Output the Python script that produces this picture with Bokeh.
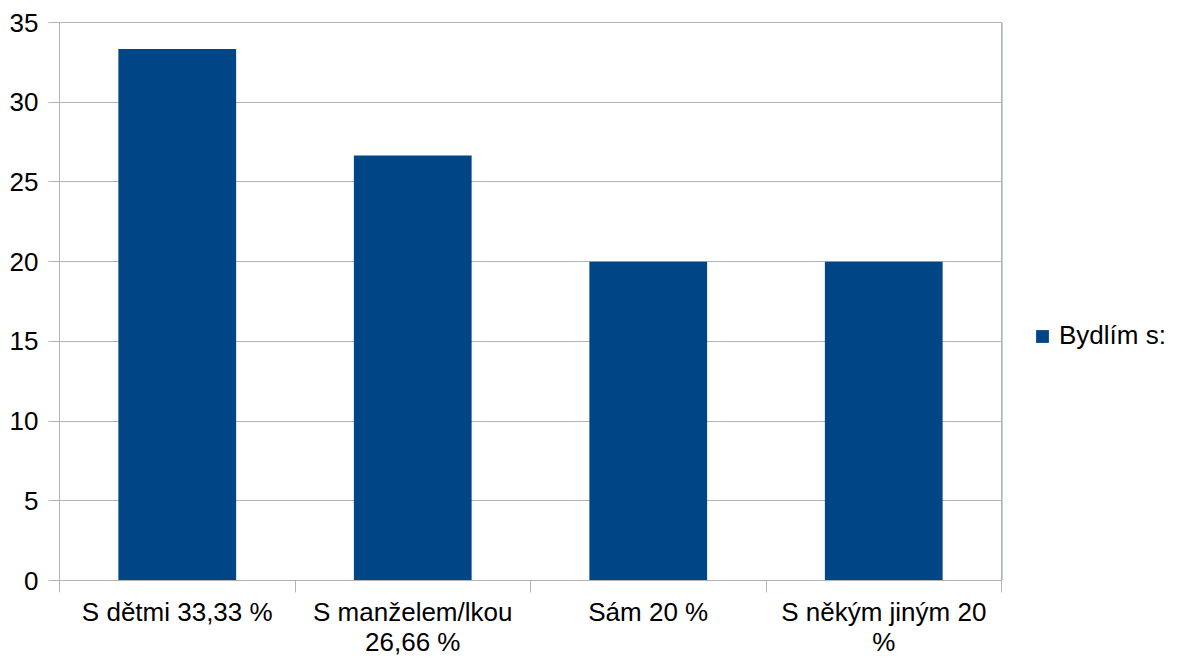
from bokeh.plotting import figure
from bokeh.models import Range1d, FixedTicker, Legend, LegendItem, ColumnDataSource
from bokeh.layouts import row
from bokeh.embed import file_html
from bokeh.resources import INLINE

categories = ["S dětmi 33,33 %", "S manželem/lkou\n26,66 %", "Sám 20 %", "S někým jiným 20\n%"]
values = [33.33, 26.66, 20, 20]
series_name = "Bydlím s:"
y_ticks = [0, 5, 10, 15, 20, 25, 30, 35]

FONT = "Liberation Sans"
GRID = "#b3b3b3"
BAR = "#004586"

positions = [i + 0.5 for i in range(len(categories))]
src = ColumnDataSource(dict(x=positions, top=values))

p = figure(width=1002, height=659, output_backend="svg", toolbar_location=None,
           x_range=Range1d(0, len(categories)), y_range=Range1d(0, 35),
           min_border_left=59, min_border_top=22, min_border_right=1, min_border_bottom=79)
p.background_fill_color = "white"
p.border_fill_color = "white"
p.outline_line_color = GRID

r = p.vbar(x="x", top="top", width=0.5, source=src, color=BAR, line_color=None)

# y axis
p.yaxis.ticker = FixedTicker(ticks=y_ticks, minor_ticks=[])
p.yaxis.axis_line_color = GRID
p.yaxis.major_tick_line_color = GRID
p.yaxis.major_tick_out = 11
p.yaxis.major_tick_in = 0
p.yaxis.minor_tick_line_color = None
p.yaxis.major_label_text_font = FONT
p.yaxis.major_label_text_font_size = "26px"
p.yaxis.major_label_text_color = "black"
p.yaxis.major_label_standoff = 10
p.ygrid.grid_line_color = GRID
p.ygrid.ticker = FixedTicker(ticks=y_ticks)

# x axis: labels at centres, tick marks at category boundaries
p.xaxis.ticker = FixedTicker(ticks=positions, minor_ticks=list(range(len(categories) + 1)))
p.xaxis.major_label_overrides = {pos: lab for pos, lab in zip(positions, categories)}
p.xaxis.axis_line_color = GRID
p.xaxis.major_tick_line_color = None
p.xaxis.major_tick_out = 0
p.xaxis.major_tick_in = 0
p.xaxis.minor_tick_line_color = GRID
p.xaxis.minor_tick_out = 12
p.xaxis.minor_tick_in = 0
p.xaxis.major_label_text_font = FONT
p.xaxis.major_label_text_font_size = "26px"
p.xaxis.major_label_text_color = "black"
p.xaxis.major_label_text_line_height = 1.0
p.xaxis.major_label_standoff = 4
p.xgrid.grid_line_color = None

# legend panel on the right (legend swatch uses a bar kept outside the visible range)
lf = figure(width=181, height=659, output_backend="svg", toolbar_location=None,
            x_axis_type=None, y_axis_type=None, x_range=Range1d(0, 1), y_range=Range1d(0, 1),
            min_border_left=0, min_border_right=0, min_border_top=0, min_border_bottom=0)
lf.outline_line_color = None
lf.grid.grid_line_color = None
lr = lf.vbar(x=[-10], top=[1], width=0.5, color=BAR, line_color=None)

legend = Legend(items=[LegendItem(label=series_name, renderers=[lr])],
                location=(32, 229), margin=0, padding=0,
                border_line_color=None, background_fill_alpha=0,
                glyph_width=16, glyph_height=16, label_standoff=9,
                label_text_font=FONT, label_text_font_size="26px",
                label_text_color="black")
lf.add_layout(legend, "center")

layout = row(p, lf)
open("out.html", "w").write(file_html(layout, INLINE))
